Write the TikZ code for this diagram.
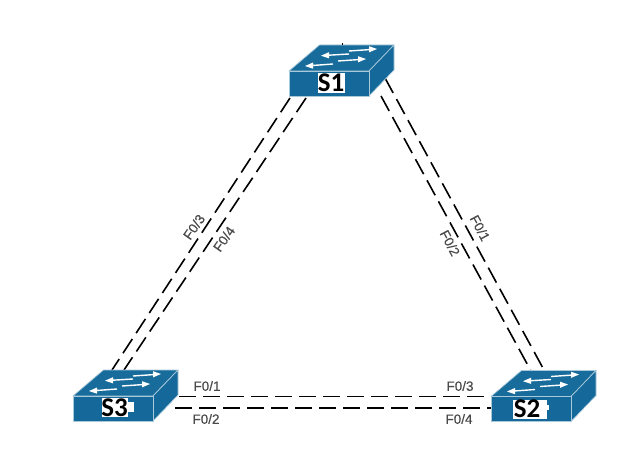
\documentclass[tikz,border=0pt]{standalone}
\usepackage{fontspec}
\setmainfont{Liberation Sans}
\newfontfamily\swfont{Carlito}
\newfontfamily\lblfont[FakeBold=0.35]{Liberation Sans}
\definecolor{swblue}{HTML}{14699A}
\definecolor{swtop}{HTML}{186C9B}
\definecolor{swedge}{HTML}{A9C8DA}
\definecolor{lbl}{HTML}{4A4A4A}
\tikzset{
  x=1pt,y=-1pt,
  swface/.style={fill=swblue,draw=swedge,line width=0.7pt,line join=round},
  swtopface/.style={fill=swtop,draw=swedge,line width=0.7pt,line join=round},
  swarrow/.style={draw=white,line width=1.4pt},
  swhead/.style={fill=white,draw=none},
  swname/.style={font=\swfont\bfseries\fontsize{27}{27}\selectfont,text=black,inner sep=0pt},
  portlabel/.style={font=\lblfont\fontsize{13.5}{13.5}\selectfont,text=lbl,inner sep=0pt},
  link/.style={draw=black,line width=1.6pt,dash pattern=on 17pt off 7pt},
}
\newcommand{\swbody}[2]{%
  \begin{scope}[shift={(#1,#2)}]
    \path[swtopface] (0,0) -- (30.5,-26) -- (105,-26) -- (80,0) -- cycle;
    \path[swface] (80,0) -- (105,-26) -- (105,-1) -- (80,25) -- cycle;
    \path[swface] (0,0) rectangle (80,25);
    \draw[swarrow] (60,-17) -- (38,-15.7);
    \fill[swhead] (32,-15.3) -- (40,-18.8) -- (40,-12.6) -- cycle;
    \draw[swarrow] (60,-20) -- (82,-21.5);
    \fill[swhead] (88,-22) -- (80,-24.8) -- (80,-18.6) -- cycle;
    \draw[swarrow] (44,-7) -- (22,-5.4);
    \fill[swhead] (16,-5) -- (24,-8.5) -- (24,-2.3) -- cycle;
    \draw[swarrow] (49,-10) -- (71,-11.5);
    \fill[swhead] (77,-12) -- (69,-14.8) -- (69,-8.6) -- cycle;
  \end{scope}
}
\begin{document}
\begin{tikzpicture}
\useasboundingbox (0,0) rectangle (644,449);
\fill[white] (0,0) rectangle (644,449);
% port coordinates
\coordinate (s1l) at (290,98);
\coordinate (s1m) at (306,98);
\coordinate (s1r) at (381,96);
\coordinate (s1q) at (385,78);
\coordinate (s3a) at (112,370);
\coordinate (s3b) at (124,370);
\coordinate (s2a) at (531,371);
\coordinate (s2b) at (544,370);
\coordinate (s3t) at (179,396.5);
\coordinate (s3u) at (175,408);
\coordinate (s2t) at (491,396.5);
\coordinate (s2u) at (491,408);
% links
\draw[link] (s1l) -- (s3a);
\draw[link] (s1m) -- (s3b);
\draw[link] (s1r) -- (s2a);
\draw[link] (s1q) -- (s2b);
\draw[link] (s3t) -- (s2t);
\draw[link] (s3u) -- (s2u);
% switches
\swbody{289}{71}
\swbody{73}{396}
\swbody{491}{396.5}
\fill[black] (341.5,43.5) rectangle (343,45.5);
\fill[white] (318,73) rectangle (345,93);
\fill[white] (102,398) rectangle (128,417);
\fill[white] (128,402) rectangle (134,412);
\fill[white] (513,400) rectangle (547,419);
\fill[white] (547,405) rectangle (549,410);
\node[swname] (s1) at (331,83) {S1};
\node[swname] (s3) at (114.5,407.5) {S3};
\node[swname] (s2) at (527,409) {S2};
% labels
\node[portlabel,rotate=55] (p13) at (194,227) {F0/3};
\node[portlabel,rotate=55] (p14) at (224,239) {F0/4};
\node[portlabel,rotate=-62] (p11) at (480,228) {F0/1};
\node[portlabel,rotate=-62] (p12) at (450,243) {F0/2};
\node[portlabel] (p31) at (207,386) {F0/1};
\node[portlabel] (p32) at (206,419) {F0/2};
\node[portlabel] (p23) at (460,386) {F0/3};
\node[portlabel] (p24) at (459,419) {F0/4};
\end{tikzpicture}
\end{document}
